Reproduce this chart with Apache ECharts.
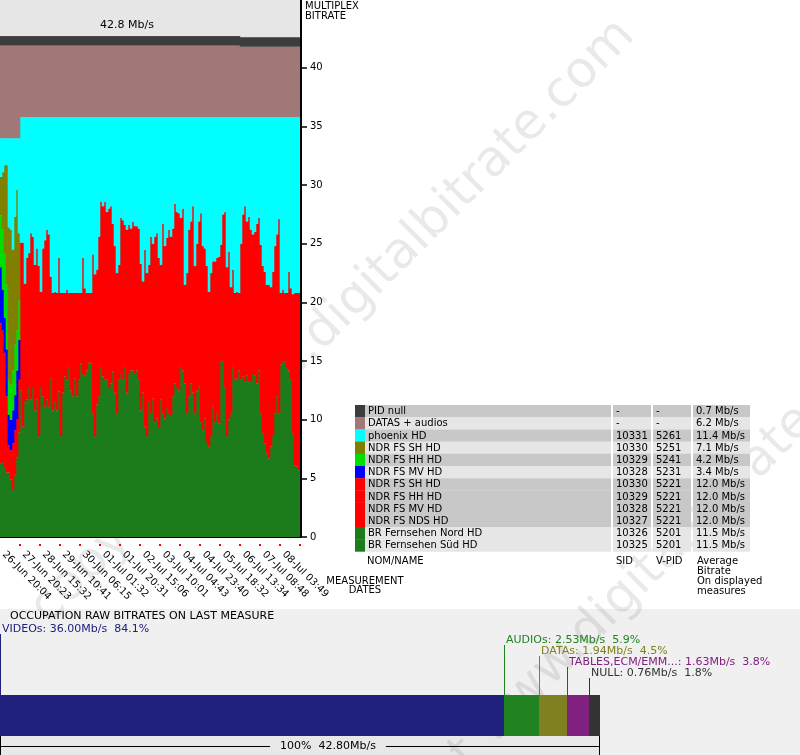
<!DOCTYPE html>
<html><head><meta charset="utf-8">
<script src="https://cdn.jsdelivr.net/npm/echarts@6/dist/echarts.min.js"></script>
<style>html,body{margin:0;padding:0;background:#fff}#c{width:800px;height:755px}</style>
</head><body><div id="c"></div>
<script>
// ---------- DATA ----------
const tickLabels = ['26-Jun 20:04','27-Jun 20:23','28-Jun 15:32','29-Jun 10:41','30-Jun 06:15','01-Jul 01:32','01-Jul 20:31','02-Jul 15:06','03-Jul 10:01','04-Jul 04:43','04-Jul 23:40','05-Jul 18:32','06-Jul 13:34','07-Jul 08:48','08-Jul 03:49'];

// Mb/s per measurement, stacked bottom -> top
const brFernsehen = [6.3,6.4,5.9,5.5,5.5,4.9,4.0,5.3,6.8,8.9,
12.5,9.4,11.5,11.7,12.7,11.7,12.7,10.8,11.7,8.6,
12.7,12.0,11.1,11.7,11.1,13.5,10.8,11.5,10.8,12.4,
8.6,12.3,13.7,13.4,14.5,12.5,12.0,13.5,12.0,13.4,
14.8,13.9,13.8,14.2,14.9,14.8,10.5,8.6,11.3,12.0,
14.5,13.7,13.4,13.4,12.7,13.1,14.1,12.3,10.5,13.4,
13.9,13.4,14.5,12.3,13.9,14.2,14.2,13.9,14.2,13.4,
10.8,12.3,9.4,8.6,11.6,10.5,11.8,9.8,10.1,9.3,
11.7,10.5,10.1,11.0,10.5,10.4,12.0,13.1,12.7,12.5,
14.5,14.2,13.1,10.5,12.0,13.1,12.3,10.5,12.4,12.8,
9.8,9.1,10.1,8.1,7.7,8.6,11.1,9.8,10.5,9.7,
15.0,15.0,12.8,8.6,10.0,10.5,14.5,13.5,13.4,14.2,
13.4,13.7,13.3,13.8,13.3,13.3,13.9,13.8,13.1,14.2,
10.5,8.8,8.0,7.1,6.7,7.7,8.7,10.5,12.0,10.5,
14.7,15.0,15.0,14.4,14.2,13.4,8.8,6.1,6.0,5.7];
const ndrShared = [11.9,11.2,9.8,6.5,2.3,2.5,4.0,3.8,3.2,4.5,
12.6,15.7,10.1,12.1,11.5,14.2,12.9,12.4,12.9,14.5,
8.2,12.6,14.2,14.5,14.7,8.7,10.0,9.4,10.0,11.4,
12.2,8.5,7.1,7.7,6.3,8.3,8.8,7.3,8.8,7.4,
6.0,9.9,7.4,6.6,5.9,6.0,13.6,13.8,11.5,13.6,
14.1,14.5,15.2,14.3,15.3,15.1,12.6,12.5,12.0,9.8,
13.3,13.6,12.1,13.9,12.7,12.1,12.7,12.6,12.3,12.9,
12.5,9.5,15.1,13.9,11.6,15.1,13.2,15.8,15.8,14.5,
11.5,16.2,14.7,14.5,15.7,15.2,14.3,15.3,15.0,15.1,
12.7,13.8,8.4,12.0,14.2,13.8,15.9,12.6,12.6,14.1,
17.8,15.7,14.5,15.0,13.2,13.9,12.4,13.7,13.3,14.2,
9.9,12.5,14.9,14.4,14.3,10.8,8.3,7.3,7.5,6.6,
11.6,13.8,14.9,13.1,14.0,12.9,11.9,12.2,13.6,13.0,
14.4,14.3,14.6,14.4,14.8,13.6,13.9,14.3,13.8,16.6,
6.1,6.1,5.8,6.4,8.4,7.8,11.9,14.7,14.8,15.1];
const ndrMV = [4.8,3.5,3.0,4.0,2.6,2.6,2.8,3.0,4.2,3.4];
const ndrHH = [4.4,5.1,5.5,5.5,3.0,3.0,3.4,4.3,3.4,3.4];
const ndrSH = [3.3,4.9,7.5,10.2,13.0,13.2,10.3,10.9,12.0,5.7];
const phoenix = [3.3,2.9,2.3,2.3,7.6,7.8,9.5,6.7,4.4,8.1,
10.7,10.7,14.2,12.0,11.6,9.9,10.2,12.6,11.2,12.7,
14.9,11.2,10.5,9.6,10.0,13.6,15.0,14.9,15.0,12.0,
15.0,15.0,15.0,14.7,15.0,15.0,15.0,15.0,15.0,15.0,
15.0,12.0,14.6,15.0,15.0,15.0,11.7,13.4,13.0,10.2,
7.2,7.6,7.2,8.1,7.8,7.6,9.1,11.0,13.3,12.6,
8.6,8.8,9.2,9.6,9.2,9.5,8.9,9.3,9.3,9.5,
12.5,14.0,11.3,13.3,12.6,10.2,10.8,10.2,9.9,12.0,
12.6,9.1,11.0,10.3,9.6,10.2,9.5,7.4,8.1,8.2,
8.6,7.8,14.3,13.3,9.6,8.9,7.6,12.7,10.8,8.9,
8.2,11.0,11.2,12.7,14.9,13.3,12.3,12.3,12.0,11.9,
10.9,8.3,8.1,12.8,11.5,14.5,13.0,15.0,14.9,15.0,
10.8,8.3,7.6,8.9,8.5,9.6,10.0,9.8,9.1,8.6,
10.9,12.7,13.2,14.3,14.3,14.5,13.2,11.0,10.0,8.7,
15.0,14.7,15.0,15.0,13.2,14.6,15.1,15.0,15.0,15.0];
const datasAudios = [7.9,7.9,7.9,7.9,7.9,7.9,7.9,7.9,7.9,7.9,
6.1,6.1,6.1,6.1,6.1,6.1,6.1,6.1,6.1,6.1,6.1,6.1,6.1,6.1,6.1,6.1,6.1,6.1,6.1,6.1,
6.1,6.1,6.1,6.1,6.1,6.1,6.1,6.1,6.1,6.1,6.1,6.1,6.1,6.1,6.1,6.1,6.1,6.1,6.1,6.1,
6.1,6.1,6.1,6.1,6.1,6.1,6.1,6.1,6.1,6.1,6.1,6.1,6.1,6.1,6.1,6.1,6.1,6.1,6.1,6.1,
6.1,6.1,6.1,6.1,6.1,6.1,6.1,6.1,6.1,6.1,6.1,6.1,6.1,6.1,6.1,6.1,6.1,6.1,6.1,6.1,
6.1,6.1,6.1,6.1,6.1,6.1,6.1,6.1,6.1,6.1,6.1,6.1,6.1,6.1,6.1,6.1,6.1,6.1,6.1,6.1,
6.1,6.1,6.1,6.1,6.1,6.1,6.1,6.1,6.1,6.1,6.0,6.0,6.0,6.0,6.0,6.0,6.0,6.0,6.0,6.0,
6.0,6.0,6.0,6.0,6.0,6.0,6.0,6.0,6.0,6.0,6.0,6.0,6.0,6.0,6.0,6.0,6.0,6.0,6.0,6.0];
const pidNull = [0.8,0.8,0.8,0.8,0.8,0.8,0.8,0.8,0.8,0.8,0.8,0.8,0.8,0.8,0.8,0.8,0.8,0.8,0.8,0.8,
0.8,0.8,0.8,0.8,0.8,0.8,0.8,0.8,0.8,0.8,0.8,0.8,0.8,0.8,0.8,0.8,0.8,0.8,0.8,0.8,
0.8,0.8,0.8,0.8,0.8,0.8,0.8,0.8,0.8,0.8,0.8,0.8,0.8,0.8,0.8,0.8,0.8,0.8,0.8,0.8,
0.8,0.8,0.8,0.8,0.8,0.8,0.8,0.8,0.8,0.8,0.8,0.8,0.8,0.8,0.8,0.8,0.8,0.8,0.8,0.8,
0.8,0.8,0.8,0.8,0.8,0.8,0.8,0.8,0.8,0.8,0.8,0.8,0.8,0.8,0.8,0.8,0.8,0.8,0.8,0.8,
0.8,0.8,0.8,0.8,0.8,0.8,0.8,0.8,0.8,0.8,0.8,0.8,0.8,0.8,0.8,0.8,0.8,0.8,0.8,0.8,
0.8,0.8,0.8,0.8,0.8,0.8,0.8,0.8,0.8,0.8,0.8,0.8,0.8,0.8,0.8,0.8,0.8,0.8,0.8,0.8,
0.8,0.8,0.8,0.8,0.8,0.8,0.8,0.8,0.8,0.8];
const yTicks = [0,5,10,15,20,25,30,35,40];
const muxTotalLabel = '42.8 Mb/s';

// legend table
const tableNames = ['PID null','DATAS + audios','phoenix HD','NDR FS SH HD','NDR FS HH HD','NDR FS MV HD','NDR FS SH HD','NDR FS HH HD','NDR FS MV HD','NDR FS NDS HD','BR Fernsehen Nord HD','BR Fernsehen Süd HD'];
const tableSid = ['-','-','10331','10330','10329','10328','10330','10329','10328','10327','10326','10325'];
const tableVpid = ['-','-','5261','5251','5241','5231','5221','5221','5221','5221','5201','5201'];
const tableAvg = ['0.7 Mb/s','6.2 Mb/s','11.4 Mb/s','7.1 Mb/s','4.2 Mb/s','3.4 Mb/s','12.0 Mb/s','12.0 Mb/s','12.0 Mb/s','12.0 Mb/s','11.5 Mb/s','11.5 Mb/s'];
const tableShade = [1,0,1,0,1,0,1,1,1,1,0,0];

// occupation on last measure
const occNames = ['VIDEOs','AUDIOs','DATAs','TABLES,ECM/EMM...','NULL'];
const occValues = [36.00,2.53,1.94,1.63,0.76];
const occPct = ['84.1%','5.9%','4.5%','3.8%','1.8%'];
const occTotal = '42.80';

// ---------- STYLE ----------
const FONT = 'DejaVu Sans';
const COL = {pid:'#3c3c3c', datas:'#a07878', phoenix:'#00ffff', sh:'#808000', hh:'#00dd00', mv:'#0000ff', ndr:'#ff0000', br:'#1c7c1c'};
const tableColors = [COL.pid,COL.datas,COL.phoenix,COL.sh,COL.hh,COL.mv,COL.ndr,COL.ndr,COL.ndr,COL.ndr,COL.br,COL.br];
const occColors = ['#20207f','#218221','#808020','#802080','#333333'];

const chart = echarts.init(document.getElementById('c'), null, {renderer:'canvas', width:800, height:755});
const categories = brFernsehen.map((_, i) => i);
const PLOT_BOTTOM = 537, PX_PER_UNIT = 11.73;
const yMax = PLOT_BOTTOM / PX_PER_UNIT;

const stackDefs = [
  ['BR Fernsehen', brFernsehen, COL.br],
  ['NDR FS', ndrShared, COL.ndr],
  ['NDR FS MV HD', ndrMV, COL.mv],
  ['NDR FS HH HD', ndrHH, COL.hh],
  ['NDR FS SH HD', ndrSH, COL.sh],
  ['phoenix HD', phoenix, COL.phoenix],
  ['DATAS + audios', datasAudios, COL.datas],
  ['PID null', pidNull, COL.pid]
];
const series = stackDefs.map(([name, data, color]) => ({
  type:'bar', name, data, stack:'mux', xAxisIndex:0, yAxisIndex:0,
  barWidth:2.6, barGap:'-100%', itemStyle:{color}, silent:true, z:3
}));

// occupation bar (custom, through value axis of grid 1)
const occTotalSum = occValues.reduce((a,b)=>a+b,0);
let acc = 0;
const occData = occValues.map(v => { const r=[acc, acc+v, v]; acc+=v; return r; });
series.push({
  type:'custom', xAxisIndex:1, yAxisIndex:1, data: occData, silent:true, z:5,
  renderItem(params, api){
    const i = params.dataIndex;
    const s = api.coord([api.value(0), 1]);
    const e = api.coord([api.value(1), 0]);
    const x0 = Math.round(s[0]), x1 = Math.round(e[0]);
    const top = s[1], bottom = e[1];
    const ly = top - 66 + 11*i;
    return {type:'group', children:[
      {type:'rect', shape:{x:x0, y:top, width:x1-x0, height:bottom-top}, style:{fill:occColors[i]}},
      {type:'line', shape:{x1:x0+0.5, y1:ly+5, x2:x0+0.5, y2:top}, style:{stroke:occColors[i], lineWidth:1}},
      {type:'text', x:x0+2, y:ly, style:{text: occNames[i]+': '+api.value(2).toFixed(2)+'Mb/s  '+occPct[i], fill:occColors[i], font:'11px '+FONT, verticalAlign:'middle', align:'left'}}
    ]};
  }
});

// graphics: texts, table, backgrounds
const g = [];
const txt = (x,y,text,opt={}) => g.push({type:'text', x, y, z:opt.z||20, style:Object.assign({text, fill:'#000', font:(opt.size||10)+'px '+FONT, verticalAlign:'middle', align:opt.align||'left'}, opt.style||{})});
// bottom section background
g.push({type:'rect', shape:{x:0,y:609,width:800,height:146}, style:{fill:'#f0f0f0'}, z:-30});
g.push({type:'rect', shape:{x:0,y:736,width:600,height:19}, style:{fill:'#e8e8e8'}, z:-29});
// watermark
['copyright www.digitalbitrate.com','copyright www.digitalbitrate.com'].forEach((t,k)=>{
  g.push({type:'text', x:[39,305][k], y:[616,915][k], rotation:Math.PI/4, z:-20,
    style:{text:t, fill:'rgba(0,0,0,0.085)', font:'50px '+FONT, verticalAlign:'middle', align:'left'}});
});
txt(127,25.5,muxTotalLabel,{size:11, align:'center'});
txt(305,6,'MULTIPLEX'); txt(305,16,'BITRATE');
txt(365,581,'MEASUREMENT',{align:'center'}); txt(365,590,'DATES',{align:'center'});
// table
const RT = 405, RH = 12.2;
tableNames.forEach((n,k)=>{
  const y = RT + RH*k, shade = tableShade[k] ? '#c8c8c8' : '#e6e6e6';
  g.push({type:'rect', shape:{x:355,y,width:10,height:RH+0.3}, style:{fill:tableColors[k]}, z:10});
  [[365,246],[613,38],[653,38],[693,57]].forEach(([x,w])=>g.push({type:'rect', shape:{x,y,width:w,height:RH+0.3}, style:{fill:shade}, z:10}));
  txt(368,y+RH/2+0.5,n); txt(616,y+RH/2+0.5,tableSid[k]); txt(656,y+RH/2+0.5,tableVpid[k]); txt(696,y+RH/2+0.5,tableAvg[k]);
});
txt(367,561,'NOM/NAME'); txt(616,561,'SID'); txt(656,561,'V-PID');
['Average','Bitrate','On displayed','measures'].forEach((t,k)=>txt(697,561+10*k,t));
// occupation header and total ruler
txt(10,616,'OCCUPATION RAW BITRATES ON LAST MEASURE',{size:11});
g.push({type:'line', shape:{x1:0,y1:746.5,x2:600,y2:746.5}, style:{stroke:'#000',lineWidth:1}, z:8});
g.push({type:'line', shape:{x1:0.5,y1:736,x2:0.5,y2:755}, style:{stroke:'#000',lineWidth:1}, z:8});
g.push({type:'line', shape:{x1:599.5,y1:736,x2:599.5,y2:755}, style:{stroke:'#000',lineWidth:1}, z:8});
g.push({type:'text', x:328, y:746, z:9, style:{text:'100%  '+occTotal+'Mb/s', fill:'#000', font:'11px '+FONT, align:'center', verticalAlign:'middle', backgroundColor:'#e8e8e8', padding:[0,10]}});

const option = {
  animation:false,
  backgroundColor:'#fff',
  grid:[
    {left:0, top:0, width:300, height:PLOT_BOTTOM, show:true, backgroundColor:'#e6e6e6', borderWidth:0, containLabel:false, outerBoundsMode:'none'},
    {left:0, top:695, width:600, height:41, containLabel:false, outerBoundsMode:'none'}
  ],
  xAxis:[
    {type:'category', gridIndex:0, data:categories, position:'bottom', offset:1,
     axisLine:{show:true, lineStyle:{color:'#000', width:2}}, axisTick:{show:false},
     axisLabel:{interval:9, rotate:-45, margin:12, padding:[0,0,0,4], color:'#000', fontSize:10, fontFamily:FONT,
       formatter:(v,i)=> (i%10===0 ? (tickLabels[i/10]||'') : '')}},
    {type:'value', gridIndex:1, min:0, max:occTotalSum, show:false},
    {type:'category', gridIndex:0, data:categories, position:'bottom', offset:7,
     axisLine:{show:false}, axisLabel:{show:false},
     axisTick:{show:true, length:2, interval:(i)=> i>0 && i%10===0, lineStyle:{color:'#ff0000', width:2}}}
  ],
  yAxis:[
    {type:'value', gridIndex:0, position:'right', offset:1, min:0, max:yMax,
     splitLine:{show:false},
     axisLine:{show:true, lineStyle:{color:'#000', width:2}},
     axisTick:{show:true, length:6, lineStyle:{color:'#000', width:1.5}, customValues:yTicks},
     axisLabel:{color:'#000', fontSize:10, fontFamily:FONT, margin:9, padding:[0,0,6,0], customValues:yTicks}},
    {type:'value', gridIndex:1, min:0, max:1, show:false}
  ],
  series,
  graphic: g
};
chart.setOption(option);
</script></body></html>
